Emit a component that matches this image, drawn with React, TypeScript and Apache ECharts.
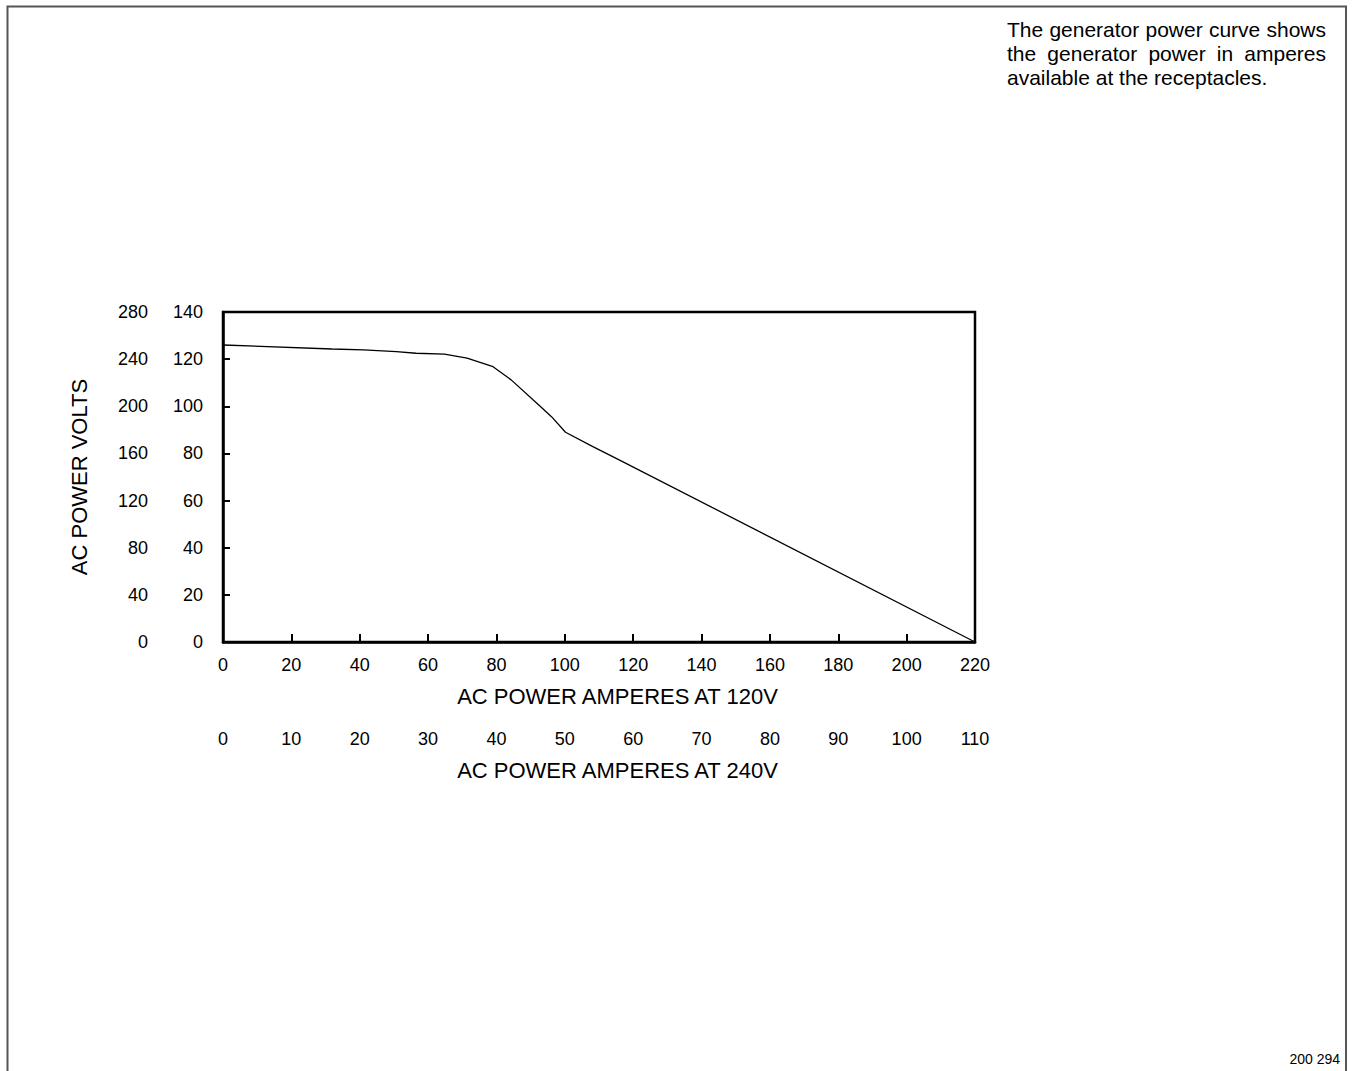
import React, { useEffect, useRef } from "react";
import * as echarts from "echarts";

// Data (120 V amperes vs volts on the 0-140 scale)
const ampsAt120V = [0, 31.9, 41.1, 50.7, 56.5, 64.8, 71.4, 79.0, 84.3, 92.7, 96.1, 100.2, 108.2, 115.6, 220];
const voltsScale140 = [126.0, 124.3, 123.9, 123.2, 122.5, 122.1, 120.4, 116.8, 111.2, 100.1, 95.6, 89.0, 82.9, 77.5, 0];

const xTitle120 = "AC POWER AMPERES AT 120V";
const xTitle240 = "AC POWER AMPERES AT 240V";
const yTitle = "AC POWER VOLTS";
const noteLines = [
  "The generator power curve shows",
  "the generator power in amperes",
  "available at the receptacles.",
];
const figureId = "200 294";

const FONT = "'Liberation Sans', Arial, Helvetica, sans-serif";

function measure(text: string, size: number): number {
  const c = document.createElement("canvas");
  const ctx = c.getContext("2d");
  if (!ctx) return text.length * size * 0.5;
  ctx.font = `${size}px 'Liberation Sans', Arial, sans-serif`;
  return ctx.measureText(text).width;
}

function justifiedLine(line: string, left: number, right: number, y: number, size: number, justify: boolean) {
  if (!justify) {
    return [
      {
        type: "text",
        x: left,
        y,
        style: { text: line, fontSize: size, fontFamily: FONT, fill: "#000", align: "left", verticalAlign: "middle" },
      },
    ];
  }
  const words = line.split(" ");
  const widths = words.map((w) => measure(w, size));
  const total = widths.reduce((a, b) => a + b, 0);
  const gap = (right - left - total) / (words.length - 1);
  let x = left;
  return words.map((w, i) => {
    const el = {
      type: "text",
      x,
      y,
      style: { text: w, fontSize: size, fontFamily: FONT, fill: "#000", align: "left", verticalAlign: "middle" },
    };
    x += widths[i] + gap;
    return el;
  });
}

export default function App() {
  const ref = useRef<HTMLDivElement>(null);
  useEffect(() => {
    document.body.style.margin = "0";
    document.body.style.overflow = "hidden";
    if (!ref.current) return;
    const chart = echarts.init(ref.current, undefined, { renderer: "svg" });

    const labelStyle = { color: "#000", fontSize: 18, fontFamily: FONT };
    const nameStyle = { color: "#000", fontSize: 22, fontFamily: FONT };

    const graphics: any[] = [
      {
        type: "polyline",
        shape: { points: [[7.5, 1071], [7.5, 6.5], [1346, 6.5], [1346, 1071]] },
        style: { stroke: "#555", lineWidth: 2, fill: null },
        silent: true,
      },
      ...justifiedLine(noteLines[0], 1007, 1326, 29, 21, true),
      ...justifiedLine(noteLines[1], 1007, 1326, 53, 21, true),
      ...justifiedLine(noteLines[2], 1007, 1326, 77, 21, false),
      {
        type: "text",
        x: 1340,
        y: 1059,
        style: { text: figureId, fontSize: 14, fontFamily: FONT, fill: "#000", align: "right", verticalAlign: "middle" },
      },
    ];

    chart.setOption({
      animation: false,
      backgroundColor: "#fff",
      grid: {
        left: 223,
        top: 312,
        right: 378,
        bottom: 429,
        show: true,
        borderColor: "#000",
        borderWidth: 2.5,
        backgroundColor: "transparent",
      },
      xAxis: [
        {
          type: "value",
          min: 0,
          max: 220,
          interval: 20,
          position: "bottom",
          axisLine: { show: true, onZero: false, lineStyle: { color: "#000", width: 2.5 } },
          axisTick: { show: true, inside: true, length: 8, lineStyle: { color: "#000", width: 2 } },
          axisLabel: { ...labelStyle, margin: 14 },
          splitLine: { show: false },
          name: xTitle120,
          nameLocation: "middle",
          nameGap: 43,
          nameTextStyle: { ...nameStyle, padding: [0, 0, 0, 37] },
        },
        {
          type: "value",
          min: 0,
          max: 110,
          interval: 10,
          position: "bottom",
          offset: 74,
          axisLine: { show: false },
          axisTick: { show: false },
          axisLabel: { ...labelStyle, margin: 14 },
          splitLine: { show: false },
          name: xTitle240,
          nameLocation: "middle",
          nameGap: 43,
          nameTextStyle: { ...nameStyle, padding: [0, 0, 0, 37] },
        },
      ],
      yAxis: [
        {
          type: "value",
          min: 0,
          max: 140,
          interval: 20,
          position: "left",
          axisLine: { show: true, onZero: false, lineStyle: { color: "#000", width: 2.5 } },
          axisTick: { show: true, inside: true, length: 7, lineStyle: { color: "#000", width: 2 } },
          axisLabel: { ...labelStyle, margin: 20 },
          splitLine: { show: false },
          name: yTitle,
          nameLocation: "middle",
          nameGap: 133,
          nameRotate: 90,
          nameTextStyle: nameStyle,
        },
        {
          type: "value",
          min: 0,
          max: 280,
          interval: 40,
          position: "left",
          offset: 55,
          axisLine: { show: false },
          axisTick: { show: false },
          axisLabel: { ...labelStyle, margin: 20 },
          splitLine: { show: false },
        },
      ],
      series: [
        {
          type: "line",
          xAxisIndex: 0,
          yAxisIndex: 0,
          data: ampsAt120V.map((a, i) => [a, voltsScale140[i]]),
          showSymbol: false,
          symbol: "none",
          smooth: false,
          lineStyle: { color: "#000", width: 1.3 },
          silent: true,
        },
      ],
      graphic: graphics,
    });

    return () => chart.dispose();
  }, []);
  return <div ref={ref} style={{ width: 1353, height: 1071 }} />;
}
